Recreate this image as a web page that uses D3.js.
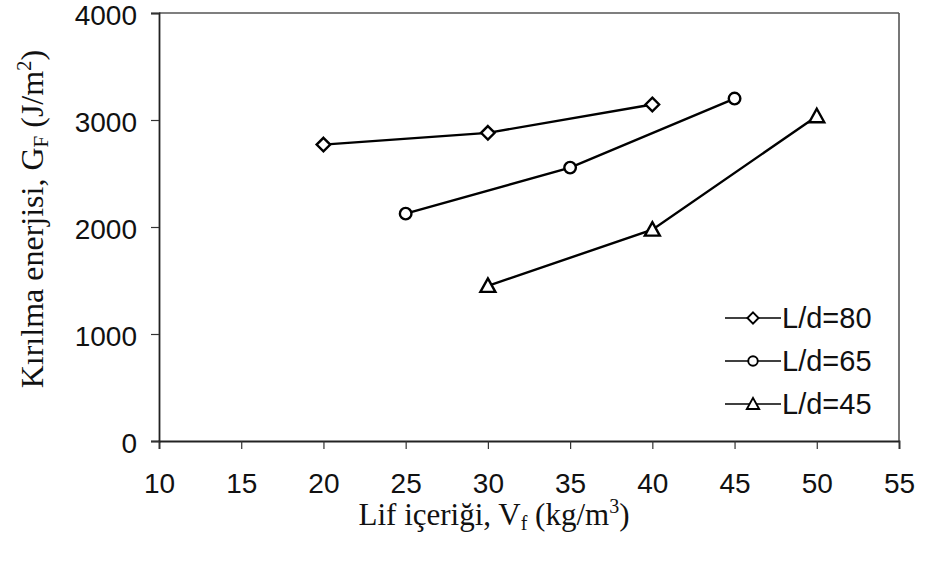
<!DOCTYPE html>
<html>
<head>
<meta charset="utf-8">
<script src="https://cdn.jsdelivr.net/npm/d3@7"></script>
<style>
  body { margin: 0; background: #fff; }
  svg { display: block; }
</style>
</head>
<body>
<svg id="chart" width="942" height="567"></svg>
<script>
// Series data
const seriesNames = ["L/d=80", "L/d=65", "L/d=45"];
const markerTypes = ["diamond", "circle", "triangle"];
const fiberLd80 = [20, 30, 40];
const energyLd80 = [2770, 2880, 3145];
const fiberLd65 = [25, 35, 45];
const energyLd65 = [2125, 2555, 3200];
const fiberLd45 = [30, 40, 50];
const energyLd45 = [1450, 1975, 3035];

const xTicks = [10, 15, 20, 25, 30, 35, 40, 45, 50, 55];
const yTicks = [0, 1000, 2000, 3000, 4000];

const series = [
  { name: seriesNames[0], marker: markerTypes[0], values: fiberLd80.map((x, i) => ({ x, y: energyLd80[i] })) },
  { name: seriesNames[1], marker: markerTypes[1], values: fiberLd65.map((x, i) => ({ x, y: energyLd65[i] })) },
  { name: seriesNames[2], marker: markerTypes[2], values: fiberLd45.map((x, i) => ({ x, y: energyLd45[i] })) }
];

const svg = d3.select("#chart");
const margin = { top: 13, right: 43, bottom: 126, left: 159 };
const width = 942 - margin.left - margin.right;
const height = 567 - margin.top - margin.bottom;

const g = svg.append("g").attr("transform", `translate(${margin.left},${margin.top})`);

const x = d3.scaleLinear().domain([10, 55]).range([0, width]);
const y = d3.scaleLinear().domain([0, 4000]).range([height, 0]);

const sans = "'Liberation Sans', Arial, sans-serif";
const serif = "'Liberation Serif', 'Times New Roman', serif";

// plot frame: top/right lighter, like the scan
g.append("line").attr("x1", 0).attr("x2", width).attr("y1", 0).attr("y2", 0)
  .attr("stroke", "#555").attr("stroke-width", 1.6);
g.append("line").attr("x1", width).attr("x2", width).attr("y1", 0).attr("y2", height)
  .attr("stroke", "#555").attr("stroke-width", 1.6);

// x axis
const xAxis = g.append("g")
  .attr("transform", `translate(0,${height})`)
  .call(d3.axisBottom(x).tickValues(xTicks).tickSize(8).tickPadding(24).tickFormat(d3.format("d")));
xAxis.select(".domain").attr("stroke", "#222").attr("stroke-width", 1.8);
xAxis.selectAll(".tick line").attr("stroke", "#333").attr("stroke-width", 1.2);
xAxis.selectAll("text").attr("font-family", sans).attr("font-size", 28).attr("fill", "#111");

// y axis
const yAxis = g.append("g")
  .call(d3.axisLeft(y).tickValues(yTicks).tickSize(8).tickPadding(14).tickFormat(d3.format("d")));
yAxis.select(".domain").attr("stroke", "#222").attr("stroke-width", 1.8);
yAxis.selectAll(".tick line").attr("stroke", "#333").attr("stroke-width", 1.2);
yAxis.selectAll("text").attr("font-family", sans).attr("font-size", 28).attr("fill", "#111")
  .attr("dy", "0.4em");

// marker drawing
function drawMarker(sel, type, size) {
  if (type === "circle") {
    sel.append("circle").attr("r", size * 0.85);
  } else if (type === "diamond") {
    const s = size;
    sel.append("path").attr("d", `M0,${-s}L${s},0L0,${s}L${-s},0Z`);
  } else {
    const s = size * 1.1;
    sel.append("path").attr("d", `M0,${-s}L${s},${s * 0.8}L${-s},${s * 0.8}Z`);
  }
}

const line = d3.line().x(d => x(d.x)).y(d => y(d.y));

series.forEach(s => {
  g.append("path")
    .datum(s.values)
    .attr("fill", "none")
    .attr("stroke", "#000")
    .attr("stroke-width", 2.4)
    .attr("d", line);

  g.selectAll(null)
    .data(s.values)
    .enter()
    .append("g")
    .attr("transform", d => `translate(${x(d.x)},${y(d.y)})`)
    .attr("fill", "#fff")
    .attr("stroke", "#000")
    .attr("stroke-width", 2.4)
    .each(function () { drawMarker(d3.select(this), s.marker, 6.8); });
});

// legend
const legendY = [305, 348, 391];
const legend = g.selectAll(".legend-item")
  .data(series)
  .enter()
  .append("g")
  .attr("class", "legend-item")
  .attr("transform", (d, i) => `translate(566,${legendY[i]})`);

legend.append("line")
  .attr("x1", 0).attr("x2", 56)
  .attr("stroke", "#000").attr("stroke-width", 1.7);

legend.append("g")
  .attr("transform", "translate(28,0)")
  .attr("fill", "#fff")
  .attr("stroke", "#000")
  .attr("stroke-width", 1.9)
  .each(function (d) { drawMarker(d3.select(this), d.marker, 5.6); });

legend.append("text")
  .attr("x", 57)
  .attr("dy", "0.36em")
  .attr("font-family", sans)
  .attr("font-size", 29)
  .attr("fill", "#111")
  .text(d => d.name);

// x axis title
const xTitle = svg.append("text")
  .attr("x", 494)
  .attr("y", 525)
  .attr("text-anchor", "middle")
  .attr("font-family", serif)
  .attr("font-size", 31)
  .attr("fill", "#111");
xTitle.append("tspan").text("Lif içeriği, V");
xTitle.append("tspan").attr("font-size", 20).attr("dy", 5).text("f");
xTitle.append("tspan").attr("dy", -5).text(" (kg/m");
xTitle.append("tspan").attr("font-size", 20).attr("dy", -12).text("3");
xTitle.append("tspan").attr("dy", 12).text(")");

// y axis title
const yTitle = svg.append("text")
  .attr("transform", "rotate(-90)")
  .attr("x", -219)
  .attr("y", 43)
  .attr("text-anchor", "middle")
  .attr("font-family", serif)
  .attr("font-size", 32)
  .attr("fill", "#111");
yTitle.append("tspan").text("Kırılma enerjisi, G");
yTitle.append("tspan").attr("font-size", 21).attr("dy", 5).text("F");
yTitle.append("tspan").attr("dy", -5).text(" (J/m");
yTitle.append("tspan").attr("font-size", 21).attr("dy", -12).text("2");
yTitle.append("tspan").attr("dy", 12).text(")");
</script>
</body>
</html>
